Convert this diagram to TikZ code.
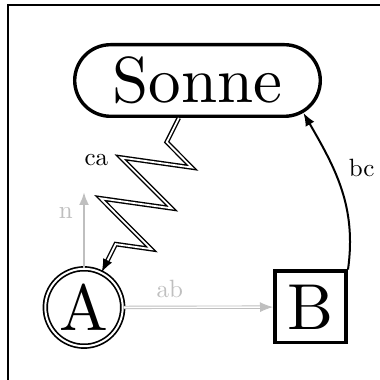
\documentclass[tikz,border=0pt]{standalone}
\usepackage{fontspec}
\setmainfont{lmroman10-regular.otf}
\usetikzlibrary{arrows.meta,shapes.misc,decorations.pathmorphing}
\begin{document}
\begin{tikzpicture}[x=1pt,y=1pt,
  big/.style={font=\fontsize{65}{78}\selectfont, inner sep=0pt},
  lbl/.style={font=\fontsize{25}{30}\selectfont, inner sep=2pt},
  sonnebox/.style={big, draw, rounded rectangle, line width=3.4pt, minimum width=245.6pt, minimum height=71.6pt},
  acircle/.style={big, draw, circle, double, line width=1.7pt, double distance=2pt, minimum size=77.4pt},
  bbox/.style={big, draw, rectangle, line width=3.8pt, minimum size=71.2pt},
  grayline/.style={draw=gray!50, line width=2.4pt},
  graylbl/.style={lbl, text=gray!50},
  tipbig/.style={-{Latex[length=13pt,width=10pt]}},
  zig/.style={line width=1.4pt, double, double distance=1.8pt, decorate,
    decoration={zigzag, segment length=45.6pt, amplitude=34pt, pre length=27pt, post length=18pt}},
]
\useasboundingbox (0,0) rectangle (380,380);
\clip (0,0) rectangle (380,380);
\draw[line width=2.2pt] (8,375) rectangle (430,-50);
\node[sonnebox] (Sonne) at (197.5,299.5) {Sonne};
\node[acircle] (A) at (84,72.5) {A};
\node[bbox] (B) at (310.5,73) {B};
\coordinate (nend) at (84,188);
\draw[grayline, tipbig] (A) -- node[graylbl, left=8pt, pos=0.72] {n} (nend);
\draw[draw=gray!50, double, line width=0.9pt, double distance=1.5pt, tipbig] (A) -- node[graylbl, above=7.5pt, pos=0.31] {ab} (B);
\draw[zig, tipbig] (Sonne) -- node[lbl, left=47pt, pos=0.27] {ca} (A);
\draw[line width=2pt, tipbig] (B.north east) to[out=82, in=-60] node[lbl, right=13pt, pos=0.64] {bc} (Sonne.-17);
\end{tikzpicture}
\end{document}
